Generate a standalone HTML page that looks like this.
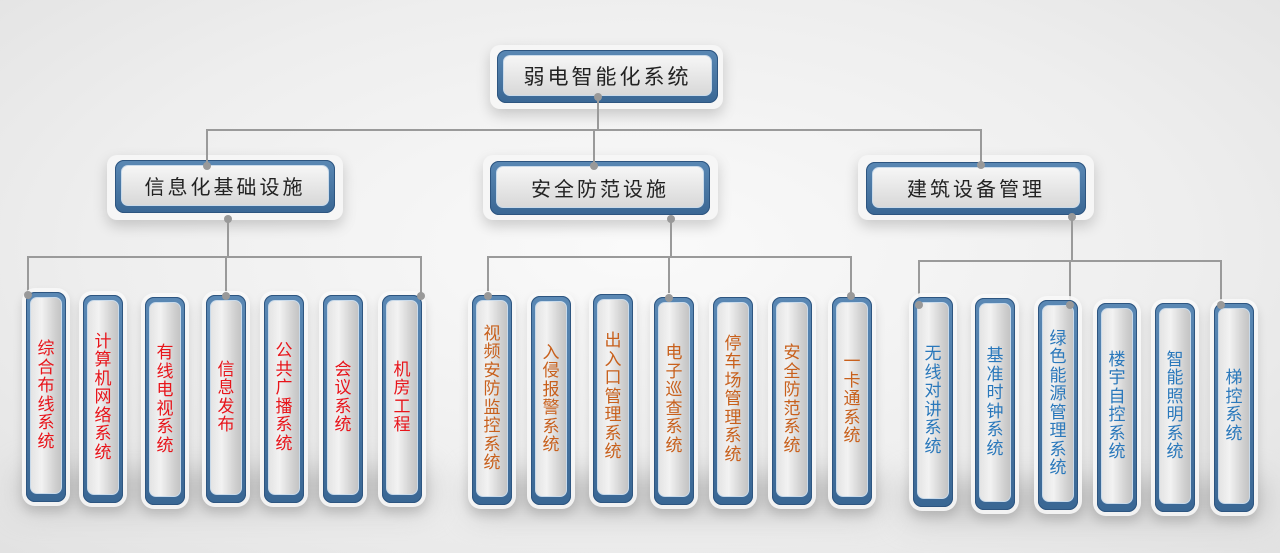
<!DOCTYPE html>
<html><head><meta charset="utf-8"><style>
body{margin:0;width:1280px;height:553px;overflow:hidden;position:relative;
background:radial-gradient(ellipse at 50% 45%,#fafafa 0%,#eeeeee 60%,#e2e2e2 100%);
font-family:"Liberation Sans","Noto Sans CJK SC",sans-serif;}
.sh{position:absolute;background:#c4c4c4;filter:blur(14px);border-radius:10px;}
.h{position:absolute;background:#f6f6f6;border-radius:10px;box-shadow:0 6px 14px rgba(0,0,0,.18);}
.b{position:absolute;border-radius:9px;background:linear-gradient(180deg,#5a88b4,#3a6794);box-shadow:inset 0 0 0 1px #2d5580;}
.i{position:absolute;left:6px;right:6px;top:5px;bottom:7px;border-radius:7px;border:1px solid #c9daea;
background:linear-gradient(180deg,#f6f6f6,#d8d8d8);display:flex;align-items:center;justify-content:center;color:#222;font-size:20px;letter-spacing:3px}
.leaf .b{box-shadow:inset 0 0 0 1px #2d5580,0 0 0 4px rgba(248,248,248,.9),0 6px 10px 4px rgba(0,0,0,.12);}
.leaf .i{left:4px;right:4px;top:5px;bottom:8px;font-size:17px;line-height:18.5px;letter-spacing:0;
background:linear-gradient(90deg,#e4e4e4,#f2f2f2 35%,#d0d0d0 80%,#c4c4c4);}
.v{width:18px;text-align:center;word-break:break-all}
.r{color:#e8141a}.o{color:#c8601c}.u{color:#2a78bb}
.ln{position:absolute;background:#9a9a9a}
.d{position:absolute;width:8px;height:8px;border-radius:50%;background:#999;margin:-4px 0 0 -4px}
</style></head><body>
<div class="sh" style="left:20px;top:470px;width:410px;height:40px"></div>
<div class="sh" style="left:470px;top:475px;width:410px;height:40px"></div>
<div class="sh" style="left:905px;top:480px;width:360px;height:40px"></div>

<div class="h" style="left:490px;top:45px;width:233px;height:64px"></div>
<div class="b" style="left:497px;top:50px;width:221px;height:53px"><div class="i" style="font-size:21px">弱电智能化系统</div></div>
<div class="h" style="left:107px;top:155px;width:236px;height:65px"></div>
<div class="b" style="left:115px;top:160px;width:220px;height:53px"><div class="i">信息化基础设施</div></div>
<div class="h" style="left:483px;top:155px;width:235px;height:65px"></div>
<div class="b" style="left:490px;top:161px;width:220px;height:54px"><div class="i">安全防范设施</div></div>
<div class="h" style="left:858px;top:155px;width:236px;height:65px"></div>
<div class="b" style="left:866px;top:162px;width:220px;height:53px"><div class="i">建筑设备管理</div></div>

<div class="ln" style="left:597px;top:97px;width:2px;height:34px"></div>
<div class="ln" style="left:206px;top:129px;width:776px;height:2px"></div>
<div class="ln" style="left:206px;top:129px;width:2px;height:36px"></div>
<div class="ln" style="left:593px;top:129px;width:2px;height:36px"></div>
<div class="ln" style="left:980px;top:129px;width:2px;height:36px"></div>
<div class="ln" style="left:227px;top:218px;width:2px;height:40px"></div>
<div class="ln" style="left:27px;top:256px;width:395px;height:2px"></div>
<div class="ln" style="left:27px;top:256px;width:2px;height:38px"></div>
<div class="ln" style="left:225px;top:256px;width:2px;height:40px"></div>
<div class="ln" style="left:420px;top:256px;width:2px;height:40px"></div>
<div class="ln" style="left:670px;top:218px;width:2px;height:40px"></div>
<div class="ln" style="left:487px;top:256px;width:365px;height:2px"></div>
<div class="ln" style="left:487px;top:256px;width:2px;height:40px"></div>
<div class="ln" style="left:668px;top:256px;width:2px;height:42px"></div>
<div class="ln" style="left:850px;top:256px;width:2px;height:40px"></div>
<div class="ln" style="left:1071px;top:217px;width:2px;height:45px"></div>
<div class="ln" style="left:918px;top:260px;width:303px;height:2px"></div>
<div class="ln" style="left:918px;top:260px;width:2px;height:45px"></div>
<div class="ln" style="left:1069px;top:260px;width:2px;height:45px"></div>
<div class="ln" style="left:1220px;top:260px;width:2px;height:45px"></div>

<div class="leaf">
<div class="b" style="left:26px;top:292px;width:40px;height:210px"><div class="i"><div class="v r">综合布线系统</div></div></div>
<div class="b" style="left:83px;top:295px;width:40px;height:208px"><div class="i"><div class="v r">计算机网络系统</div></div></div>
<div class="b" style="left:145px;top:297px;width:40px;height:208px"><div class="i"><div class="v r">有线电视系统</div></div></div>
<div class="b" style="left:206px;top:295px;width:40px;height:208px"><div class="i"><div class="v r">信息发布</div></div></div>
<div class="b" style="left:264px;top:295px;width:40px;height:208px"><div class="i"><div class="v r">公共广播系统</div></div></div>
<div class="b" style="left:323px;top:295px;width:40px;height:208px"><div class="i"><div class="v r">会议系统</div></div></div>
<div class="b" style="left:382px;top:295px;width:40px;height:208px"><div class="i"><div class="v r">机房工程</div></div></div>

<div class="b" style="left:472px;top:295px;width:40px;height:210px"><div class="i"><div class="v o">视频安防监控系统</div></div></div>
<div class="b" style="left:531px;top:296px;width:40px;height:209px"><div class="i"><div class="v o">入侵报警系统</div></div></div>
<div class="b" style="left:593px;top:294px;width:40px;height:209px"><div class="i"><div class="v o">出入口管理系统</div></div></div>
<div class="b" style="left:654px;top:297px;width:40px;height:208px"><div class="i"><div class="v o">电子巡查系统</div></div></div>
<div class="b" style="left:713px;top:297px;width:40px;height:208px"><div class="i"><div class="v o">停车场管理系统</div></div></div>
<div class="b" style="left:772px;top:297px;width:40px;height:208px"><div class="i"><div class="v o">安全防范系统</div></div></div>
<div class="b" style="left:832px;top:297px;width:40px;height:208px"><div class="i"><div class="v o">一卡通系统</div></div></div>

<div class="b" style="left:913px;top:297px;width:40px;height:210px"><div class="i"><div class="v u">无线对讲系统</div></div></div>
<div class="b" style="left:975px;top:298px;width:40px;height:212px"><div class="i"><div class="v u">基准时钟系统</div></div></div>
<div class="b" style="left:1038px;top:300px;width:40px;height:210px"><div class="i"><div class="v u">绿色能源管理系统</div></div></div>
<div class="b" style="left:1097px;top:303px;width:40px;height:209px"><div class="i"><div class="v u">楼宇自控系统</div></div></div>
<div class="b" style="left:1155px;top:303px;width:40px;height:209px"><div class="i"><div class="v u">智能照明系统</div></div></div>
<div class="b" style="left:1214px;top:303px;width:40px;height:209px"><div class="i"><div class="v u">梯控系统</div></div></div>
</div>

<div class="d" style="left:598px;top:97px"></div>
<div class="d" style="left:207px;top:166px"></div>
<div class="d" style="left:594px;top:166px"></div>
<div class="d" style="left:981px;top:165px"></div>
<div class="d" style="left:228px;top:219px"></div>
<div class="d" style="left:671px;top:219px"></div>
<div class="d" style="left:1072px;top:217px"></div>
<div class="d" style="left:28px;top:295px"></div>
<div class="d" style="left:226px;top:296px"></div>
<div class="d" style="left:421px;top:296px"></div>
<div class="d" style="left:488px;top:296px"></div>
<div class="d" style="left:669px;top:298px"></div>
<div class="d" style="left:851px;top:296px"></div>
<div class="d" style="left:919px;top:305px"></div>
<div class="d" style="left:1070px;top:305px"></div>
<div class="d" style="left:1221px;top:305px"></div>
</body></html>
